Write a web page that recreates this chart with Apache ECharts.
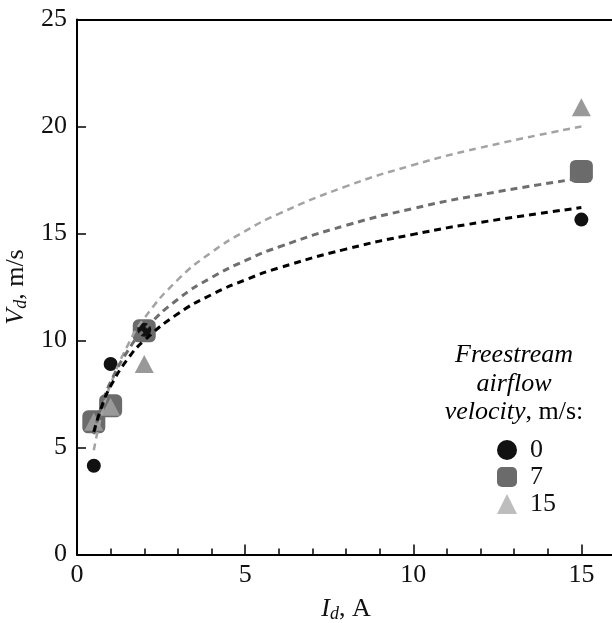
<!DOCTYPE html>
<html>
<head>
<meta charset="utf-8">
<script src="https://cdn.jsdelivr.net/npm/echarts@6/dist/echarts.min.js"></script>
<style>
  html, body { margin: 0; padding: 0; background: #fff; }
  #chart { width: 612px; height: 623px; }
</style>
</head>
<body>
<div id="chart"></div>
<script>
// Measured drift velocity vs discharge current, three freestream speeds
const currents = [0.5, 1, 2, 15];
const vel0 = [4.15, 8.9, 10.5, 15.65];
const vel7 = [6.2, 6.95, 10.45, 17.9];
const vel15 = [6.2, 6.9, 8.9, 20.9];

// Logarithmic trend lines, sampled along each curve
const fitX = [0.5, 0.75, 1, 1.5, 2, 3, 4, 5, 6, 8, 10, 12, 15];
const fit0 = [5.73, 6.98, 7.87, 9.12, 10.0, 11.25, 12.14, 12.83, 13.39, 14.27, 14.96, 15.52, 16.21];
const fit7 = [5.62, 7.05, 8.06, 9.49, 10.5, 11.93, 12.94, 13.73, 14.37, 15.38, 16.17, 16.81, 17.59];
const fit15 = [4.87, 6.67, 7.95, 9.75, 11.04, 12.84, 14.12, 15.11, 15.92, 17.2, 18.2, 19.01, 20.0];

const seriesNames = ['0', '7', '15'];
const xTicks = [0, 5, 10, 15];
const yTicks = [0, 5, 10, 15, 20, 25];

const pairs = (xs, ys) => xs.map((x, i) => [x, ys[i]]);

const FONT = "'Liberation Serif', 'Times New Roman', Times, serif";
const FS = 26;
const C_DARK = '#111111';
const C_MID = '#6b6b6b';
const C_LIGHT = '#999999';

const chart = echarts.init(document.getElementById('chart'), null, { renderer: 'canvas' });

const dashLine = (name, data, color, width) => ({
  name: name,
  type: 'line',
  data: data,
  smooth: true,
  showSymbol: false,
  symbol: 'none',
  silent: true,
  z: 5,
  lineStyle: { color: color, width: width, type: [7, 5] }
});

const axisRich = {
  i: { fontFamily: FONT, fontStyle: 'italic', fontSize: FS, color: '#111', lineHeight: 28 },
  s: { fontFamily: FONT, fontStyle: 'italic', fontSize: 18, color: '#111', lineHeight: 28, verticalAlign: 'bottom', padding: [12, 0, 0, 0] },
  n: { fontFamily: FONT, fontSize: FS, color: '#111', lineHeight: 28 }
};

chart.setOption({
  animation: false,
  backgroundColor: '#ffffff',
  grid: { left: 77, top: 19.5, width: 538, height: 535, containLabel: false, outerBoundsMode: 'none' },
  xAxis: [{
    type: 'value',
    min: 0, max: 16, interval: 5,
    axisLine: { show: true, lineStyle: { color: '#000', width: 2 } },
    axisTick: { show: true, inside: true, length: 10, lineStyle: { color: '#000', width: 1.5 },
      customValues: xTicks },
    minorTick: { show: true, splitNumber: 5, length: 6, lineStyle: { color: '#000', width: 1.5 } },
    axisLabel: { color: '#111', fontFamily: FONT, fontSize: FS, margin: 8,
      customValues: xTicks },
    splitLine: { show: false },
    name: '{i|I}{s|d}{n|, A}',
    nameLocation: 'middle',
    nameGap: 32,
    nameTextStyle: { rich: axisRich }
  }, {
    type: 'value',
    position: 'top',
    min: 0, max: 16,
    axisLine: { show: true, onZero: false, lineStyle: { color: '#000', width: 2 } },
    axisTick: { show: false },
    axisLabel: { show: false },
    splitLine: { show: false }
  }],
  yAxis: {
    type: 'value',
    min: 0, max: 25, interval: 5,
    axisLine: { show: true, lineStyle: { color: '#000', width: 2 } },
    axisTick: { show: true, inside: true, length: 9, lineStyle: { color: '#000', width: 1.5 } },
    axisLabel: { color: '#111', fontFamily: FONT, fontSize: FS, margin: 10,
      customValues: yTicks },
    splitLine: { show: false },
    name: '{i|V}{s|d}{n|, m/s}',
    nameLocation: 'middle',
    nameRotate: 90,
    nameGap: 39,
    nameTextStyle: { rich: axisRich }
  },
  legend: {
    orient: 'vertical',
    left: 492,
    top: 432,
    itemWidth: 20,
    itemHeight: 20,
    itemGap: 1,
    textStyle: { fontFamily: FONT, fontSize: FS, color: '#111', padding: [0, 0, 0, 8] },
    data: [
      { name: seriesNames[0], icon: 'circle', itemStyle: { color: C_DARK } },
      { name: seriesNames[1], icon: 'roundRect', itemStyle: { color: C_MID } },
      { name: seriesNames[2], icon: 'triangle', itemStyle: { color: '#bdbdbd' } }
    ]
  },
  graphic: [{
    type: 'text',
    x: 514,
    y: 341,
    style: {
      text: '{i|Freestream}\n{i|airflow}\n{i|velocity}{n|, m/s:}',
      align: 'center',
      verticalAlign: 'top',
      rich: {
        i: { fontFamily: FONT, fontStyle: 'italic', fontSize: FS, lineHeight: 28.5, color: '#111' },
        n: { fontFamily: FONT, fontSize: FS, lineHeight: 28.5, color: '#111' }
      }
    }
  }],
  series: [
    {
      name: seriesNames[1],
      type: 'scatter',
      data: pairs(currents, vel7),
      symbol: 'roundRect',
      symbolSize: 23,
      itemStyle: { color: C_MID, opacity: 1 },
      z: 2
    },
    {
      name: seriesNames[2],
      type: 'scatter',
      data: pairs(currents, vel15),
      symbol: 'triangle',
      symbolSize: [19, 18],
      itemStyle: { color: C_LIGHT, opacity: 1 },
      z: 3
    },
    {
      name: seriesNames[0],
      type: 'scatter',
      data: pairs(currents, vel0),
      symbol: 'circle',
      symbolSize: 14,
      itemStyle: { color: C_DARK, opacity: 1 },
      z: 4
    },
    dashLine('fit15', pairs(fitX, fit15), '#a3a3a3', 2.5),
    dashLine('fit7', pairs(fitX, fit7), '#6e6e6e', 3),
    dashLine('fit0', pairs(fitX, fit0), '#000000', 3)
  ]
});
</script>
</body>
</html>
